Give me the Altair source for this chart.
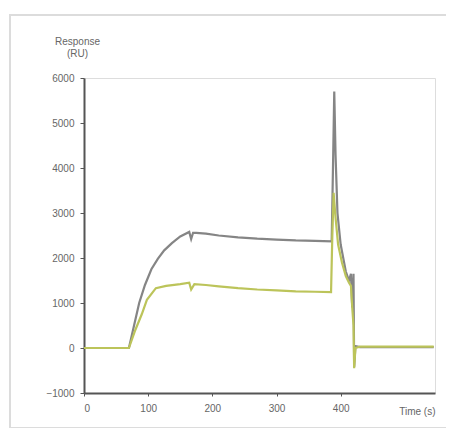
import altair as alt
import pandas as pd

t_gray = [0, 70, 78, 86, 95, 105, 115, 125, 137, 150, 164, 167, 170, 175, 190, 210, 240, 270, 300, 330, 360, 386,
          388, 390, 392, 395, 400, 408, 413, 416, 418, 420, 421, 423, 430, 470, 510, 545]
v_gray = [0, 0, 500, 1000, 1400, 1750, 1980, 2170, 2330, 2480, 2580, 2420, 2560, 2560, 2540, 2500, 2460, 2430, 2410, 2390, 2380, 2370,
          4000, 5700, 4300, 3000, 2300, 1700, 1500, 1650, 900, 1650, -420, 40, 20, 20, 20, 20]

t_yel = [0, 70, 80, 90, 98, 112, 128, 150, 164, 167, 172, 190, 210, 240, 270, 300, 330, 360, 385,
         387, 389, 392, 396, 402, 408, 413, 416, 418, 420, 421, 423, 430, 470, 510, 545]
v_yel = [0, 0, 400, 750, 1070, 1330, 1380, 1420, 1450, 1300, 1420, 1400, 1370, 1330, 1300, 1280, 1260, 1250, 1240,
         2500, 3450, 2900, 2300, 1900, 1600, 1450, 1380, 900, 500, -450, 0, 30, 30, 30, 30]

series_names = ["A", "B"]
colors = ["#858585", "#bcc45a"]

x_ticks = [0, 100, 200, 300, 400]
y_ticks = [-1000, 0, 1000, 2000, 3000, 4000, 5000, 6000]

df = pd.concat([
    pd.DataFrame({"t": t_gray, "v": v_gray, "s": "A", "o": range(len(t_gray))}),
    pd.DataFrame({"t": t_yel, "v": v_yel, "s": "B", "o": range(len(t_yel))}),
])

lines = alt.Chart(df).mark_line(strokeWidth=2.2).encode(
    x=alt.X("t:Q", scale=alt.Scale(domain=[0, 547], nice=False),
            axis=alt.Axis(values=x_ticks, title="Time (s)", grid=False, format="d",
                          titleX=351, titleY=18, titleAlign="right", titleBaseline="middle",
                          titleFontWeight="normal", titleFontSize=10, titleColor="#666",
                          labelFontSize=10, labelColor="#666", labelPadding=7, tickSize=3,
                          domainColor="#555", tickColor="#555", domainWidth=2)),
    y=alt.Y("v:Q", scale=alt.Scale(domain=[-1000, 6000], nice=False),
            axis=alt.Axis(values=y_ticks, title=["Response", "(RU)"], format="d",
                          grid=False, titleAngle=0, titleX=-7, titleY=-32, titleAlign="center",
                          titleBaseline="bottom", titleFontWeight="normal", titleFontSize=10,
                          titleColor="#666", labelFontSize=10, labelColor="#666", labelPadding=6,
                          tickSize=4, domainColor="#555", tickColor="#555", domainWidth=2)),
    color=alt.Color("s:N", scale=alt.Scale(domain=series_names, range=colors), legend=None),
    order="o:Q",
)

frame = alt.Chart(pd.DataFrame({"a": [0]})).mark_rect(fill=None, stroke="#dcdcdc", strokeWidth=2).encode(
    x=alt.value(-74), x2=alt.value(375), y=alt.value(-63), y2=alt.value(350)
)

chart = alt.layer(frame, lines).properties(
    width=351, height=315,
    padding={"left": 76, "top": 70, "right": 11, "bottom": 35},
    autosize=alt.AutoSizeParams(type="none"),
).configure_view(stroke=None).configure(font="Liberation Sans")

chart.save("out.html", embed_options={"renderer": "svg", "actions": False})
